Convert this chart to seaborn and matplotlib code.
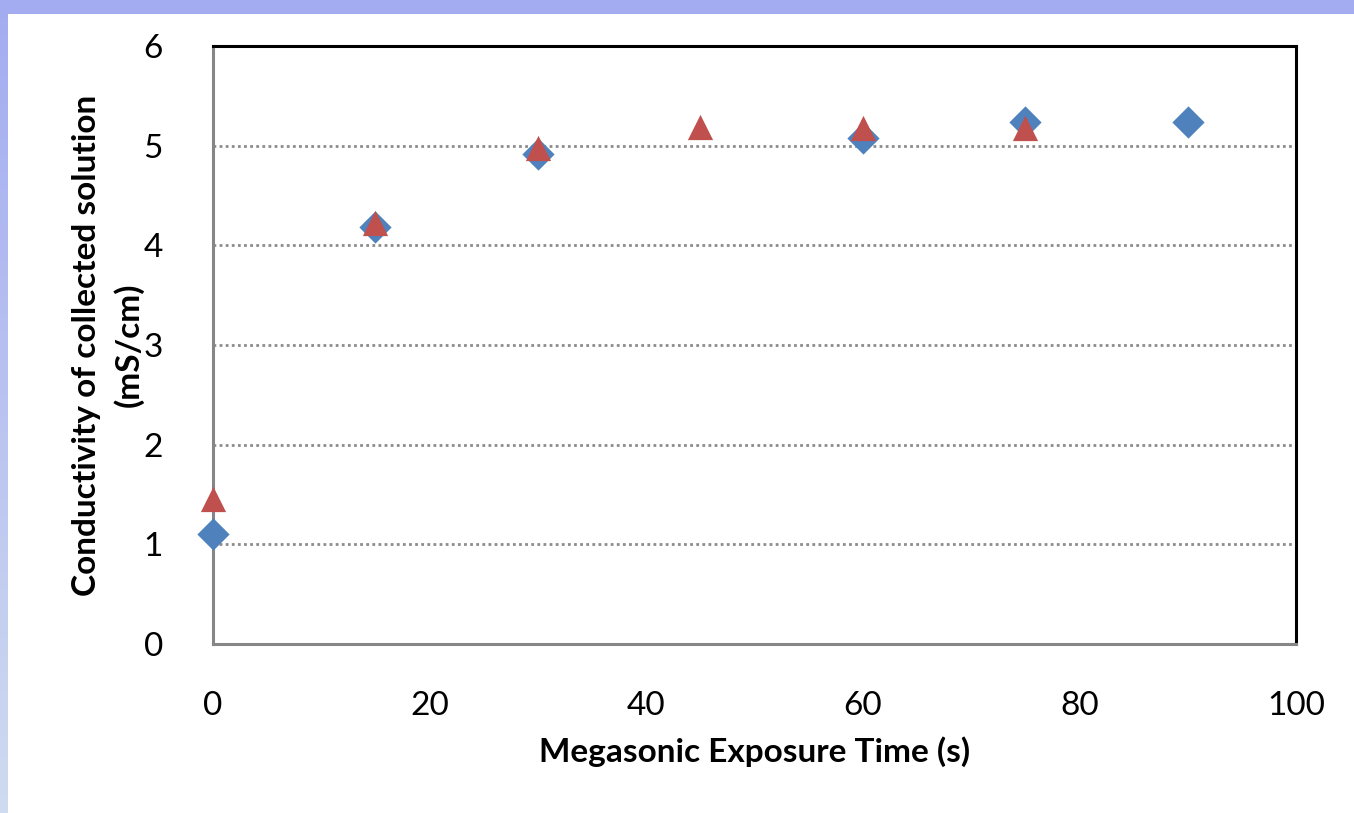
import numpy as np
import pandas as pd
import matplotlib
matplotlib.use("Agg")
import matplotlib.pyplot as plt
import seaborn as sns

# data
time_blue = [0, 15, 30, 60, 75, 90]
cond_blue = [1.10, 4.18, 4.92, 5.08, 5.24, 5.24]
time_red = [0, 15, 30, 45, 60, 75]
cond_red = [1.45, 4.22, 4.98, 5.19, 5.18, 5.18]
x_ticks = [0, 20, 40, 60, 80, 100]
y_ticks = [0, 1, 2, 3, 4, 5, 6]

sns.set_style("white")
plt.rcParams['font.family'] = ['Lato', 'DejaVu Sans']
plt.rcParams['text.color'] = 'black'
plt.rcParams['axes.labelcolor'] = 'black'
plt.rcParams['xtick.color'] = 'black'
plt.rcParams['ytick.color'] = 'black'

fig = plt.figure(figsize=(13.54, 8.13), dpi=100)

# light blue slide frame (top and left strips)
grad = np.linspace(0, 1, 256).reshape(-1, 1)
cmap = matplotlib.colors.LinearSegmentedColormap.from_list("frame", ["#A3ACF0", "#CFDBF1"])
left_ax = fig.add_axes([0, 0, 8 / 1354, 1])
left_ax.imshow(grad, aspect="auto", cmap=cmap, origin="upper")
left_ax.axis("off")
top_ax = fig.add_axes([0, 1 - 14 / 813, 1, 14 / 813])
top_ax.imshow(np.zeros((1, 2)), aspect="auto", cmap=cmap, vmin=0, vmax=1)
top_ax.axis("off")

ax = fig.add_axes([213 / 1354, 169 / 813, 1083 / 1354, 598 / 813])

df_blue = pd.DataFrame({"time": time_blue, "cond": cond_blue})
df_red = pd.DataFrame({"time": time_red, "cond": cond_red})
sns.scatterplot(data=df_blue, x="time", y="cond", marker="D", s=270,
                color="#4F81BD", linewidth=0, ax=ax, zorder=3, clip_on=False)
sns.scatterplot(data=df_red, x="time", y="cond", marker="^", s=330,
                color="#C0504D", linewidth=0, ax=ax, zorder=4, clip_on=False)

ax.set_xlim(0, 100)
ax.set_ylim(0, 6)
ax.set_xticks(x_ticks)
ax.set_yticks(y_ticks)
ax.yaxis.grid(True, linestyle=(0, (1, 1.2)), color="#8C8C8C", linewidth=2)
ax.set_axisbelow(True)

for side in ["left", "bottom"]:
    ax.spines[side].set_color("#868686")
    ax.spines[side].set_linewidth(2.2)
for side in ["top", "right"]:
    ax.spines[side].set_color("black")
    ax.spines[side].set_linewidth(2.2)

ax.tick_params(axis="both", length=0, labelsize=24, labelcolor="black")
ax.tick_params(axis="y", pad=36)
ax.tick_params(axis="x", pad=34)

ax.set_xlabel("Megasonic Exposure Time (s)", fontsize=24, fontweight="bold", color="black")
ax.xaxis.set_label_coords(0.5, -0.155)
ax.set_ylabel("Conductivity of collected solution\n(mS/cm)", fontsize=24,
              fontweight="bold", linespacing=1.45, color="black")
ax.yaxis.set_label_coords(-0.064, 0.5)

fig.savefig("out.png", dpi=100)
